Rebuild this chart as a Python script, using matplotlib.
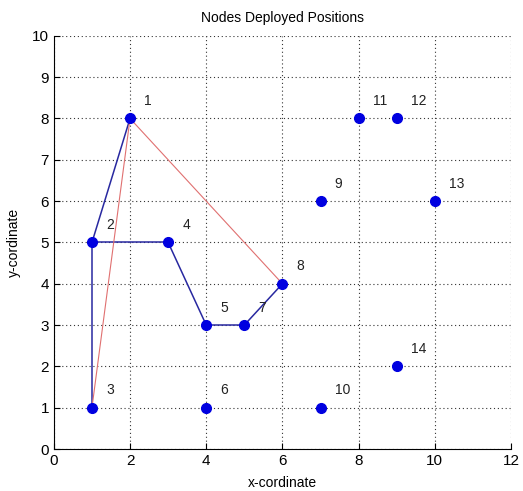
import matplotlib
matplotlib.use("Agg")
import matplotlib.pyplot as plt

node_ids = [1, 2, 3, 4, 5, 6, 7, 8, 9, 10, 11, 12, 13, 14]
node_x = [2, 1, 1, 3, 4, 4, 5, 6, 7, 7, 8, 9, 10, 9]
node_y = [8, 5, 1, 5, 3, 1, 3, 4, 6, 1, 8, 8, 6, 2]
blue_edges = [(1, 2), (2, 3), (2, 4), (4, 5), (5, 7), (7, 8)]
red_edges = [(1, 3), (1, 8)]
x_ticks = [0, 2, 4, 6, 8, 10, 12]
y_ticks = [0, 1, 2, 3, 4, 5, 6, 7, 8, 9, 10]

plt.rcParams['font.family'] = ['Liberation Sans', 'DejaVu Sans']
fig = plt.figure(figsize=(5.23, 4.91), dpi=100)
ax = fig.add_axes([0.103, 0.0855, 0.874, 0.8415])

pos = {n: (x, y) for n, x, y in zip(node_ids, node_x, node_y)}
for a, b in blue_edges:
    ax.plot([pos[a][0], pos[b][0]], [pos[a][1], pos[b][1]], color='#2828a0', lw=1.1, zorder=2)
for a, b in red_edges:
    ax.plot([pos[a][0], pos[b][0]], [pos[a][1], pos[b][1]], color='#e07070', lw=0.8, zorder=2)

ax.plot(node_x, node_y, 'o', color='#0000e0', markersize=7, linestyle='none', zorder=3)
for n, x, y in zip(node_ids, node_x, node_y):
    ax.text(x + 0.37, y + 0.25, str(n), fontsize=10, ha='left', va='bottom', color='#222222')

ax.set_xlim(0, 12)
ax.set_ylim(0, 10)
ax.set_xticks(x_ticks)
ax.set_yticks(y_ticks)
ax.grid(True, linestyle=(0, (1, 2.5)), color='#333333', lw=0.8)
ax.spines['top'].set_visible(False)
ax.spines['right'].set_visible(False)
ax.tick_params(direction='in', labelsize=11, length=4)
ax.set_title('Nodes Deployed Positions', fontsize=10, pad=10)
ax.set_xlabel('x-cordinate', fontsize=10, labelpad=6)
ax.set_ylabel('y-cordinate', fontsize=10, labelpad=8)

fig.savefig('out.png', dpi=100)
